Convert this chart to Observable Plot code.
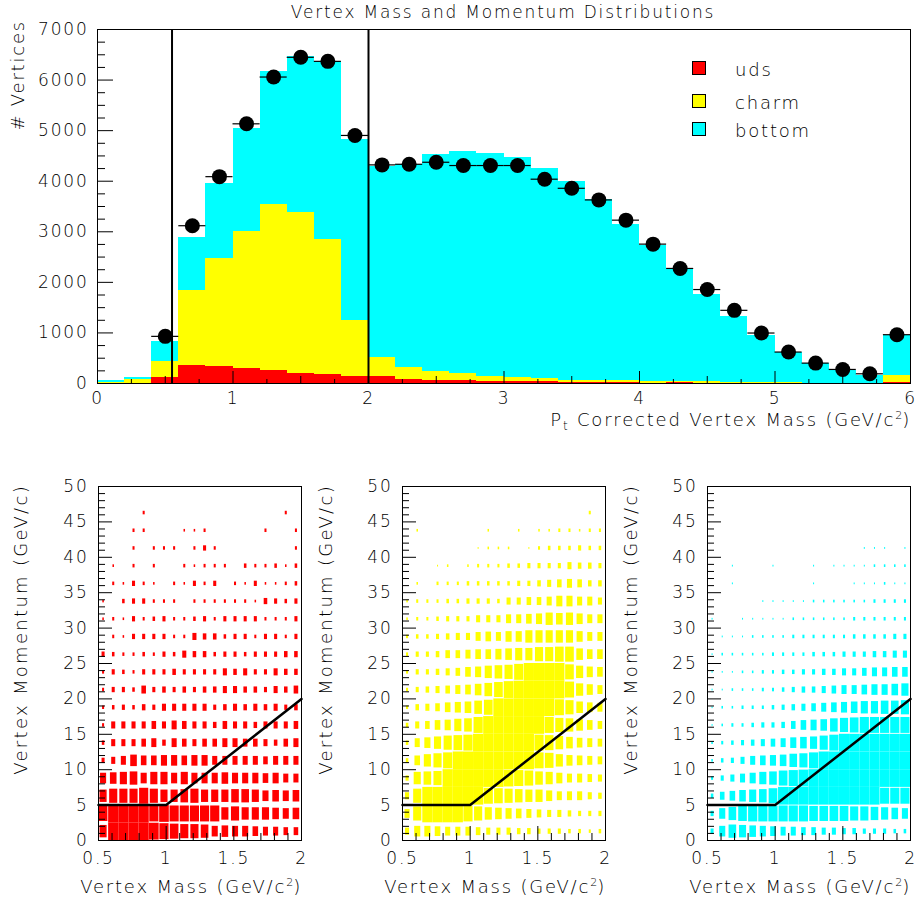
<!DOCTYPE html>
<html><head><meta charset="utf-8">
<script src="https://cdn.jsdelivr.net/npm/d3@7"></script>
<script src="https://cdn.jsdelivr.net/npm/@observablehq/plot@0.6"></script>
<style>
body{margin:0;background:#fff;}
#fig{position:relative;width:917px;height:904px;background:#fff;font-family:"DejaVu Sans",sans-serif;color:#000;overflow:hidden;}
.abs{position:absolute;}
.lbl{position:absolute;white-space:nowrap;font-size:18px;letter-spacing:1.8px;font-weight:300;line-height:20px;}
.rot{transform-origin:0 0;transform:rotate(-90deg);width:400px;text-align:right;}
.lbl sup{font-size:11px;vertical-align:7px;line-height:0;letter-spacing:0;}
.lbl sub{font-size:12px;vertical-align:-4px;line-height:0;}
.lgbox{position:absolute;width:12px;height:12px;border:1px solid #000;}
</style></head>
<body><div id="fig"></div>
<script>
// ---------- Top histogram data ----------
const categories = ["uds", "charm", "bottom"];
const catColors = ["#ff0000", "#ffff00", "#00ffff"];
const massEdges = [0,0.2,0.4,0.6,0.8,1.0,1.2,1.4,1.6,1.8,2.0,2.2,2.4,2.6,2.8,3.0,3.2,3.4,3.6,3.8,4.0,4.2,4.4,4.6,4.8,5.0,5.2,5.4,5.6,5.8,6.0];
const udsCounts = [0,5,126,357,337,304,258,205,178,139,139,86,60,50,40,30,30,20,10,10,5,25,5,0,0,0,0,0,0,26];
const charmCounts = [25,65,317,1474,2129,2696,3272,3173,2677,1097,371,225,185,142,99,82,69,40,50,40,41,15,25,15,15,10,5,5,3,132];
const bottomCounts = [40,55,397,1059,1494,2050,2630,3082,3515,3584,3780,4029,4275,4388,4416,4358,4161,3930,3570,3100,2690,2220,1735,1315,937,612,385,253,155,794];
const dataMass = [0.5,0.7,0.9,1.1,1.3,1.5,1.7,1.9,2.1,2.3,2.5,2.7,2.9,3.1,3.3,3.5,3.7,3.9,4.1,4.3,4.5,4.7,4.9,5.1,5.3,5.5,5.7,5.9];
const dataCounts = [932,3120,4090,5135,6060,6450,6370,4905,4323,4335,4375,4310,4310,4310,4040,3860,3630,3230,2756,2275,1858,1447,998,622,403,278,192,965];
const cutMass = [0.55, 2.0];
const topXTicks = [0,1,2,3,4,5,6];
const topYTicks = [0,1000,2000,3000,4000,5000,6000,7000];

// ---------- Bottom box-plot data (relative box size, 0-10), rows = momentum bins from 0 upward ----------
const boxMassEdges = [0.5,0.575,0.65,0.725,0.8,0.875,0.95,1.025,1.1,1.175,1.25,1.325,1.4,1.475,1.55,1.625,1.7,1.775,1.85,1.925,2.0];
const boxMomEdges = [0,2.5,5,7.5,10,12.5,15,17.5,20,22.5,25,27.5,30,32.5,35,37.5,40,42.5,45,47.5,50];
const udsBoxes = [
 [7,10,10,10,10,9.5,9,8.5,8,8,7.5,6,6.5,6,6,5.5,5,5,4.5,4.5],
 [8.5,10,10,10,10,9,9.5,9,9,9,9,9,7,8,7,7,7,6.5,6,6.5],
 [7,8,8,8,9,8,7,7,7.5,8,7,7,7,7.5,7.5,7,6,6.5,6,6.5],
 [6,6.5,7,7.5,6,7,7,6,7,6,6,6,6.5,6,6,6,5.5,6,5,5],
 [3,4,5,6.5,5.5,5.5,6,6,5.5,6,6,5,5,5,5,5,4.5,5,5,5],
 [2.5,4,4,4,4.5,5,3.5,5,4.5,4,4.5,4.5,5,5,4.5,4.5,4,3.5,4.5,5],
 [2,4,4,4,4,4.5,4,5,4.5,4,4,3.5,4.5,4,4,3.5,4,4,4,4.5],
 [2,2.5,3,2.5,3.5,3,4,4,4,4,4,3,3.5,4,3.5,4,3.5,4,3,3.5],
 [2,3,3,2.5,4.5,3,3.5,3,3.5,3,3.5,3.5,4,4,3.5,3.5,3,4,3.5,4.5],
 [2,3,2.5,2,3,3,3,3.5,3,3,3,3,4,3.5,4,3,3,4,3.5,3.5],
 [3,2.5,2,2,2.5,2,3,2.5,4,3.5,3.5,2.5,3,3,2.5,3,3,3,3.5,3.5],
 [0,2,1.5,3,3,3,3,2,2,4,3.5,3.5,2.5,3,3,2,3,3,2,3],
 [1.5,2,1.5,3,2,2.5,3,2,2,2.5,3,2,3,3,3,3,2,2,2,3],
 [1.5,0,2.5,3,3,2,2,2,0,2,2,2,2,2,2,1.5,3.5,3,2.5,3],
 [0,2,1.5,3,2,1.5,0,2,1.5,3,2,3,0,2,1.5,3,1.5,1.5,2,2.5],
 [0,1.5,0,2,0,2,0,0,2,1.5,2,2,2,0,2.5,2,2,2.5,1.5,2.5],
 [0,0,0,2,0,2,2,2,0,2,3,2,0,0,0,0,0,0,0,2],
 [0,0,0,2,2,0,0,0,1.5,1.5,2,0,0,0,0,0,2,0,0,2],
 [0,0,0,0,2,0,0,0,0,0,0,0,0,0,0,0,0,0,2,0],
 [0,0,0,0,0,0,0,0,0,0,0,0,0,0,0,0,0,0,0,0]
];
const charmBoxes = [
 [4,6,6,5.5,5,5,5,4.5,4,4,4,3.5,3.5,3,3,3,2.5,2.5,2,2.5],
 [5,8,10,10,10,10,9,8,7,6.5,6,5.5,5,4.5,4,4,3.5,3,3,3],
 [4,8,10,10,10,10,10,10,9,8.5,8,7.5,7,7,6,5,5,5,4,3.5],
 [3,7,7.5,8,10,10,10,10,10,10,9.5,9,8.5,7.5,7,6,5,5,4.5,4],
 [2.5,5.5,7,8,9,10,10,10,10,10,10,10,10,9,8.5,7,6,5.5,5,4.5],
 [2.5,5,6,7,8,8.5,9,10,10,10,10,10,10,9,8.5,7.5,6.5,5.5,5,4.5],
 [2.5,4,4.5,5.5,6,7,7.5,9,10,10,10,10,10,10,9,8,7.5,6.5,5.5,4.5],
 [2,3.5,4,4.5,5.5,6,6.5,7.5,8.5,10,10,10,10,10,10,9,8,6.5,5.5,5],
 [2,3,3.5,4,4.5,5,5.5,6.5,7.5,8.5,9.5,10,10,10,10,10,9,7,6,5],
 [2,3,3,3.5,4,4.5,5.5,6,7,7.5,8,9,10,10,10,10,8.5,7,6,5.5],
 [2,3,3,3.5,4.5,4.5,5,5.5,5.5,6,6.5,7,7,8,8,8.5,8.5,6.5,5.5,5.5],
 [2,2.5,2.5,3,3.5,4,4,5,5.5,5,6,6,7,7,7,7,7,6,5,5],
 [1.5,2,2,2.5,3,3,3,4,4,4,5,5,5.5,6,7,6.5,7,6,5,5],
 [1.5,2,2,2,2.5,2.5,3,3,3,2.5,4,4,4.5,4.5,5,6,6,5,5,4],
 [0,1.5,0,2,2,2,2.5,2.5,2.5,2.5,2.5,3,3,3.5,4,4.5,5,4.5,3.5,3.5],
 [0,0,0,1,1.5,0,1.5,2,2,2,2.5,2.5,3,3,3,3,4,3.5,3.5,3],
 [0,0,0,0,0,0,0,1,1.5,1.5,1.5,0,1,2,2.5,2.5,2.5,3,2.5,2.5],
 [0,1.5,0,0,0,0,0,0,1.5,0,0,1.5,0,1.5,1.5,2,2,1.5,2,2],
 [0,0,0,0,0,0,0,0,0,0,0,0,0,0,0,0,0,0,2,0],
 [0,0,0,0,0,0,0,0,0,0,0,0,0,0,0,0,0,0,0,0]
];
const bottomBoxes = [
 [3,6,7.5,7,6.5,6,5.5,5,5,4.5,4.5,4,4,3.5,3.5,3,3,3,2.5,2.5],
 [3,6,7.5,8.5,9,9,9,9,9,9,8.5,8.5,8.5,8.5,8,8,7.5,7,6.5,6],
 [2.5,4.5,5.5,6.5,7,7.5,8.5,10,10,10,10,10,10,10,10,10,10,9,9,9],
 [2,3,4,5,6,7,7.5,8.5,9,9.5,10,10,10,10,10,10,10,10,10,10],
 [1.5,2.5,3,4,5,5.5,6,6.5,7.5,8,9,10,10,10,10,10,10,10,10,10],
 [1.5,2,2.5,3,3.5,4,4.5,5,6,6.5,7,8,9,10,10,10,10,10,10,10],
 [1,1.5,2,2,2.5,3,3,3.5,4.5,5.5,6,6.5,7.5,8,8.5,9,9,9,9,9],
 [1,1.5,1.5,2,2,2,2.5,3,3.5,4,4.5,5,5.5,6,6.5,7,7,7.5,7.5,8],
 [1,1,1.5,1.5,1.5,2,2,2.5,3,3.5,3.5,4,4.5,5,5,5.5,6,6,6.5,7],
 [1,1,1,1.5,1.5,2,2,2.5,2.5,3,3,3.5,3.5,4,4,4.5,5,5,5.5,5.5],
 [1,1.5,1.5,1.5,1.5,1.5,2,2,2,2,2.5,2.5,2.5,3,3,3,3.5,3.5,4,4],
 [0,1,1,1,1.5,1.5,1.5,1.5,2,2,2,2,2,2,2.5,2.5,2.5,2.5,3,3],
 [1,0,0,1,1,1,1,1,1.5,1.5,1.5,1.5,1.5,1.5,2,2,2,2,2,2],
 [0,0,0,0,0,1,1,1,1,1,1.5,1.5,1.5,1.5,1.5,1.5,2,2,2,2],
 [0,0,1,0,0,0,0,0,0,0,1,0,0,0,1,1,1,1.5,1,1],
 [0,0,1,0,0,0,1,0,0,0,1,0,1,1,1,1,1.5,1.5,1.5,1.5],
 [0,0,0,0,0,0,0,0,0,0,0,0,0,0,0,1,1,1,0,1],
 [0,0,0,0,0,0,0,0,0,0,0,0,0,0,0,0,0,0,0,0],
 [0,0,0,0,0,0,0,0,0,0,0,0,0,0,0,0,0,0,0,0],
 [0,0,0,0,0,0,0,0,0,0,0,0,0,0,0,0,0,0,0,0]
];
const cutCurveMass = [0.5, 1.0, 2.0];
const cutCurveMom = [5, 5, 20];
const boxXTicks = [0.5, 1, 1.5, 2];
const boxYTicks = [0,5,10,15,20,25,30,35,40,45,50];

// ---------- build ----------
const fig = document.getElementById("fig");
const svgStyle = {fontFamily: "DejaVu Sans", fontSize: "17px", letterSpacing: "1.8px", fontWeight: 300, background: "none", overflow: "visible"};

function place(el, left, top) {
  const d = document.createElement("div");
  d.className = "abs"; d.style.left = left + "px"; d.style.top = top + "px";
  d.appendChild(el); fig.appendChild(d);
}
function html(str, css, cls) {
  const d = document.createElement("div");
  d.className = cls || "lbl"; d.innerHTML = str; d.style.cssText += css; fig.appendChild(d); return d;
}

// Top histogram
const histRows = [];
[udsCounts, charmCounts, bottomCounts].forEach((arr, k) => arr.forEach((n, i) =>
  histRows.push({cat: categories[k], x1: massEdges[i], x2: massEdges[i + 1], n})));
const points = dataMass.map((m, i) => ({m, n: dataCounts[i], lo: massEdges[Math.round(m * 5 - 0.5)], hi: massEdges[Math.round(m * 5 + 0.5)]}));

const TW = 917, TH = 420, TML = 97, TMR = 7, TMT = 29, TMB = 37;
const tIW = TW - TML - TMR, tIH = TH - TMT - TMB;
const topMinorY = d3.range(0, 7001, 250).filter(v => v % 1000);
const topHalfX = [0.5, 1.5, 2.5, 3.5, 4.5, 5.5];
const topQuarterX = d3.range(0.25, 6, 0.5);

const topPlot = Plot.plot({
  width: TW, height: TH, marginLeft: TML, marginRight: TMR, marginTop: TMT, marginBottom: TMB,
  style: svgStyle,
  x: {domain: [0, 6]}, y: {domain: [0, 7000]},
  color: {domain: categories, range: catColors},
  marks: [
    Plot.rectY(histRows, {x1: "x1", x2: "x2", y: "n", fill: "cat", inset: 0, shapeRendering: "crispEdges"}),
    Plot.ruleX(cutMass, {stroke: "#000", strokeWidth: 2}),
    Plot.ruleY(points, {x1: "lo", x2: "hi", y: "n", stroke: "#000", strokeWidth: 1.2}),
    Plot.dot(points, {x: "m", y: "n", r: 7.5, fill: "#000", stroke: "none"}),
    Plot.tickY(topYTicks, {y: d => d, insetRight: tIW - 16, stroke: "#000"}),
    Plot.tickY(topMinorY, {y: d => d, insetRight: tIW - 8, stroke: "#000"}),
    Plot.tickX(topXTicks, {x: d => d, insetTop: tIH - 12, stroke: "#000"}),
    Plot.tickX(topHalfX, {x: d => d, insetTop: tIH - 7, stroke: "#000"}),
    Plot.tickX(topQuarterX, {x: d => d, insetTop: tIH - 4, stroke: "#000"}),
    Plot.axisX({ticks: topXTicks, tickSize: 0, tickPadding: 8, label: null, tickFormat: d => String(d)}),
    Plot.axisY({ticks: topYTicks, tickSize: 0, tickPadding: 9, label: null, tickFormat: d => String(d)}),
    Plot.frame({stroke: "#000", strokeWidth: 1})
  ]
});
place(topPlot, 0, 0);

// Bottom panels
const BW = 305, BH = 434, BML = 97, BMR = 5, BMT = 16, BMB = 64;
const bIW = BW - BML - BMR, bIH = BH - BMT - BMB;
const minorYB = d3.range(0, 51, 1).filter(v => v % 5);
const minorXB = d3.range(0.6, 2.0, 0.1).filter(v => Math.abs(v * 2 - Math.round(v * 2)) > 1e-6);
const cutCurve = cutCurveMass.map((m, i) => ({m, p: cutCurveMom[i]}));

function panel(grid, color) {
  const cells = [];
  grid.forEach((row, j) => row.forEach((v, i) => {
    if (v > 0) cells.push({m0: boxMassEdges[i], m1: boxMassEdges[i + 1], p0: boxMomEdges[j], p1: boxMomEdges[j + 1], f: v / 10});
  }));
  const half = (a, b, f) => (b - a) * f / 2;
  return Plot.plot({
    width: BW, height: BH, marginLeft: BML, marginRight: BMR, marginTop: BMT, marginBottom: BMB,
    style: svgStyle,
    x: {domain: [0.5, 2]}, y: {domain: [0, 50]},
    marks: [
      Plot.rect(cells, {
        x1: d => (d.m0 + d.m1) / 2 - half(d.m0, d.m1, d.f), x2: d => (d.m0 + d.m1) / 2 + half(d.m0, d.m1, d.f),
        y1: d => (d.p0 + d.p1) / 2 - half(d.p0, d.p1, d.f), y2: d => (d.p0 + d.p1) / 2 + half(d.p0, d.p1, d.f),
        fill: color, inset: 0
      }),
      Plot.line(cutCurve, {x: "m", y: "p", stroke: "#000", strokeWidth: 2.5}),
      Plot.tickY(boxYTicks, {y: d => d, insetRight: bIW - 14, stroke: "#000"}),
      Plot.tickY(minorYB, {y: d => d, insetRight: bIW - 7, stroke: "#000"}),
      Plot.tickX(boxXTicks, {x: d => d, insetTop: bIH - 14, stroke: "#000"}),
      Plot.tickX(minorXB, {x: d => d, insetTop: bIH - 7, stroke: "#000"}),
      Plot.axisX({ticks: boxXTicks, tickSize: 0, tickPadding: 11, label: null, tickFormat: d => String(d)}),
      Plot.axisY({ticks: boxYTicks, tickSize: 0, tickPadding: 10, label: null, tickFormat: d => String(d)}),
      Plot.frame({stroke: "#000", strokeWidth: 1})
    ]
  });
}
place(panel(udsBoxes, catColors[0]), 1, 470);
place(panel(charmBoxes, catColors[1]), 305, 470);
place(panel(bottomBoxes, catColors[2]), 610, 470);

// Texts
html("Vertex Mass and Momentum Distributions", "left:503px;top:2px;transform:translateX(-50%);font-size:17px;");
html("# Vertices", "left:8px;top:420px;", "lbl rot");
html("P<sub>t</sub> Corrected Vertex Mass (GeV/c<sup>2</sup>)", "right:6px;top:410px;");
[11, 316, 621].forEach(x => html("Vertex Momentum (GeV/c)", `left:${x}px;top:884px;letter-spacing:2.3px;`, "lbl rot"));
[301, 605, 910].forEach(x => html("Vertex Mass (GeV/c<sup>2</sup>)", `right:${917 - x - 1}px;top:877px;`));

// Legend
const legendY = [68, 101, 129];
categories.forEach((c, k) => {
  const b = document.createElement("div");
  b.className = "lgbox"; b.style.left = "692px"; b.style.top = (legendY[k] - 7) + "px"; b.style.background = catColors[k];
  fig.appendChild(b);
  html(c, `left:735px;top:${legendY[k] - 8}px;`);
});
</script></body></html>
